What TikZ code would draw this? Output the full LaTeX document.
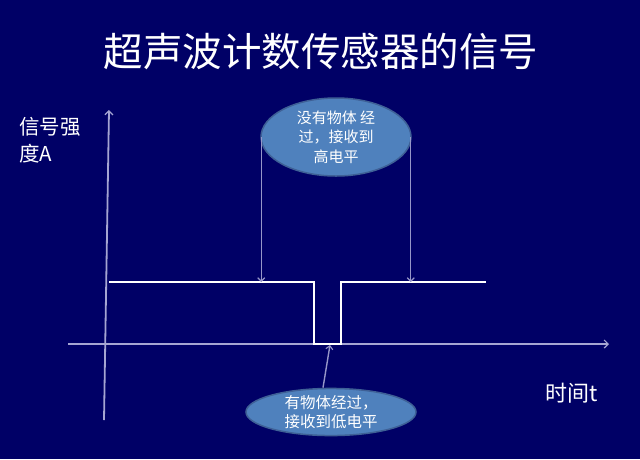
\documentclass[tikz,border=0pt]{standalone}
\usepackage{fontspec}
\setmainfont{Noto Sans CJK SC}
\usetikzlibrary{shapes.geometric,arrows.meta}
\definecolor{bg}{RGB}{0,0,102}
\definecolor{axisc}{RGB}{165,165,210}
\definecolor{ellfill}{RGB}{79,129,189}
\definecolor{elldraw}{RGB}{62,96,150}
\definecolor{arrc}{RGB}{150,150,200}
\tikzset{
  axisline/.style={draw=axisc, line width=1.8pt, -{Straight Barb[length=4pt,width=8pt,line width=1.2pt]}},
  sigline/.style={draw=white, line width=1.5pt},
  callarrow/.style={draw=arrc, line width=1.4pt, -{Straight Barb[length=3.5pt,width=7pt,line width=1.1pt]}},
  ellnode/.style={ellipse, fill=ellfill, draw=elldraw, line width=1.5pt, text=white, inner sep=0pt},
  lbl/.style={text=white, inner sep=0pt}
}
\begin{document}
\begin{tikzpicture}[x=1pt,y=-1pt]
\fill[bg] (0,0) rectangle (640,459);
\useasboundingbox (0,0) rectangle (640,459);

% title
\node[lbl, font=\fontsize{39.5}{42}\selectfont] (title) at (321,52) {超声波计数传感器的信号};

% axis labels
\node[lbl, anchor=north west, align=left, font=\fontsize{20.5}{27}\selectfont] (ylab) at (19,117) {信号强\\度A};
\node[lbl, anchor=west, font=\fontsize{22}{24}\selectfont] (xlab) at (545,393) {时间t};

% axes
\coordinate (yb) at (104,420);
\coordinate (yt) at (109,110);
\coordinate (xl) at (68,344);
\coordinate (xr) at (609,344);
\draw[axisline] (yb) -- (yt);
\draw[axisline] (xl) -- (xr);

% signal
\coordinate (s0) at (109,282);
\coordinate (s1) at (314,282);
\coordinate (s2) at (314,344);
\coordinate (s3) at (341,344);
\coordinate (s4) at (341,282);
\coordinate (s5) at (486,282);
\draw[sigline] (s0) -- (s1) -- (s2) -- (s3) -- (s4) -- (s5);

% callouts
\node[ellnode, minimum width=150pt, minimum height=78pt, align=center,
      font=\fontsize{15}{19.5}\selectfont] (top) at (336,137) {没有物体 经\\过，接收到\\高电平};
\node[ellnode, minimum width=170pt, minimum height=47pt, align=left,
      font=\fontsize{15.5}{19}\selectfont] (bot) at (331,412) {有物体经过，\\接收到低电平};

\coordinate (tl) at ([xshift=1pt]top.west);
\coordinate (tr) at ([xshift=-1pt]top.east);
\draw[callarrow] (tl) -- (tl |- s0);
\draw[callarrow] (tr) -- (tr |- s0);
\coordinate (bs) at ([xshift=-8pt]bot.north);
\coordinate (lowmid) at (330,345);
\draw[callarrow] (bs) -- (lowmid);
\end{tikzpicture}
\end{document}
